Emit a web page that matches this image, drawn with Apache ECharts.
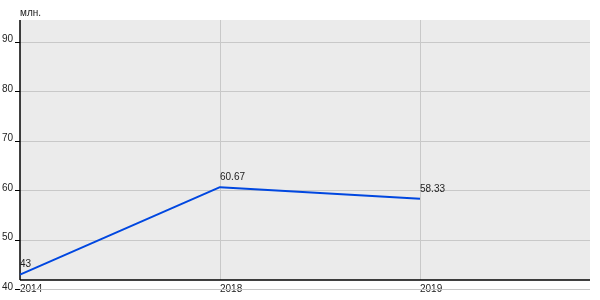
<!DOCTYPE html>
<html><head><meta charset="utf-8">
<script src="https://cdn.jsdelivr.net/npm/echarts@6/dist/echarts.min.js"></script>
<style>html,body{margin:0;padding:0;background:#fff}#c{width:600px;height:300px}</style>
</head><body><div id="c"></div>
<script>
const years = ['2014', '2018', '2019'];
const values = [43, 60.67, 58.33];
const yTicks = [40, 50, 60, 70, 80, 90];
const unitLabel = 'млн.';

const xMax = 2.85, yMin = 40, yMax = 94.44, yAxisLine = 41.92;
const font = 'Liberation Sans, Arial, sans-serif';
const grey = { color: '#c8c8c8', width: 1, type: 'solid' };
const black = { color: '#000', width: 1.5, type: 'solid' };
const gridLines = [];
yTicks.forEach(t => gridLines.push([{ coord: [0, t], lineStyle: grey }, { coord: [xMax, t] }]));
years.forEach((y, i) => { if (i > 0) gridLines.push([{ coord: [i, yAxisLine], lineStyle: grey }, { coord: [i, yMax] }]); });
gridLines.push([{ coord: [0, yAxisLine], lineStyle: black }, { coord: [xMax, yAxisLine] }]);
gridLines.push([{ coord: [0, yAxisLine], lineStyle: black }, { coord: [0, yMax] }]);

const chart = echarts.init(document.getElementById('c'));
chart.setOption({
  animation: false,
  textStyle: { fontFamily: font },
  title: { text: unitLabel, left: 15, top: 3, textStyle: { fontSize: 10, fontWeight: 'normal', color: '#222', fontFamily: font } },
  grid: { left: 20, right: 10, top: 20, bottom: 10.5, containLabel: false, outerBoundsMode: 'none' },
  xAxis: {
    type: 'value', min: 0, max: xMax, interval: 1,
    axisLine: { show: false }, axisTick: { show: false },
    splitLine: { show: false },
    axisLabel: {
      margin: 0, verticalAlign: 'middle', align: 'left', fontSize: 10, color: '#222',
      showMaxLabel: false, hideOverlap: false,
      formatter: v => Math.abs(v - Math.round(v)) < 1e-6 && years[Math.round(v)] !== undefined ? years[Math.round(v)] : ''
    }
  },
  yAxis: {
    type: 'value', min: yMin, max: yMax, interval: 10,
    axisLine: { show: false },
    axisTick: { show: true, length: 5, lineStyle: { color: '#000' }, customValues: yTicks },
    axisLabel: { customValues: yTicks, fontSize: 10, color: '#222', margin: 7, verticalAlign: 'bottom', lineHeight: 5 },
    splitLine: { show: false }
  },
  series: [
    {
      type: 'line', z: 1, data: [], silent: true,
      markArea: { silent: true, itemStyle: { color: '#ebebeb' },
        data: [[{ coord: [0, yAxisLine] }, { coord: [xMax, yMax] }]] },
      markLine: { silent: true, symbol: 'none', label: { show: false }, data: gridLines }
    },
    {
      type: 'line', z: 5,
      data: values.map((v, i) => [i, v]),
      symbol: 'circle', symbolSize: 0.01, showSymbol: true,
      itemStyle: { color: '#0047e0' },
      lineStyle: { color: '#0047e0', width: 2 },
      label: { show: true, position: 'top', align: 'left', offset: [-1, -2], fontSize: 10, color: '#222',
        formatter: p => String(values[p.dataIndex]) },
      labelLayout: { hideOverlap: false }
    }
  ]
});
</script></body></html>
